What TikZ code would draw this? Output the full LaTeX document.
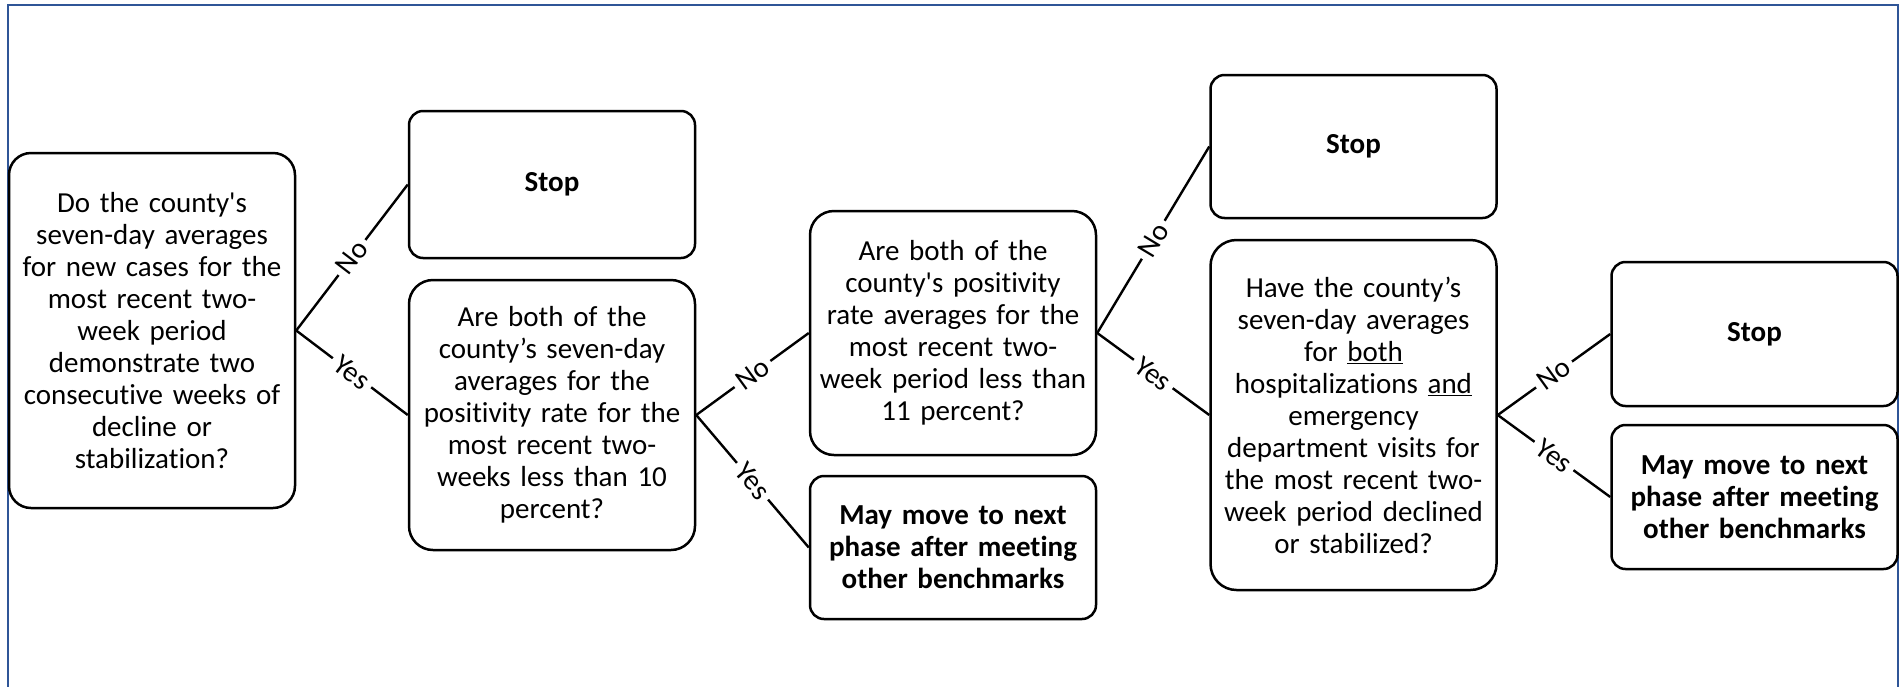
\documentclass[tikz,border=0pt]{standalone}
\usepackage{fontspec}
\setmainfont{Carlito}[Ligatures={TeX,NoCommon}]
\definecolor{frameblue}{HTML}{2F5597}
\begin{document}
\begin{tikzpicture}[x=1pt,y=-1pt,
  box/.style={draw=black, line width=2.5pt, rounded corners=#1, minimum width=286pt,
    text width=276pt, align=center, inner sep=0pt, font=\fontsize{29}{32}\selectfont},
  box/.default=24pt,
  lbl/.style={midway, sloped, fill=white, inner xsep=5pt, inner ysep=1pt,
    font=\fontsize{29}{32}\selectfont},
  conn/.style={line width=2.4pt},
  frame/.style={draw=frameblue, line width=1.8pt}]
\clip (0,0) rectangle (1902,686);
\draw[frame] (8,5) rectangle (1898,740);

\node[box=22pt, minimum height=355pt] (q1) at (152,330.5)
  {Do the county\textquotesingle s\\seven-day averages\\for new cases for the\\most recent two-\\week period\\demonstrate two\\consecutive weeks of\\decline or\\stabilization?};
\node[box=14pt, minimum height=147pt] (s1) at (552,184.5) {\textbf{Stop}};
\node[box=24pt, minimum height=270pt] (q2) at (552,415)
  {Are both of the\\county’s seven-day\\averages for the\\positivity rate for the\\most recent two-\\weeks less than 10\\percent?};
\node[box=24pt, minimum height=244pt] (q3) at (953,333)
  {Are both of the\\county\textquotesingle s positivity\\rate averages for the\\most recent two-\\week period less than\\11 percent?};
\node[box=14pt, minimum height=143pt] (m1) at (953,547.5)
  {\textbf{May move to next}\\\textbf{phase after meeting}\\\textbf{other benchmarks}};
\node[box=14pt, minimum height=143pt] (s2) at (1353.5,146.5) {\textbf{Stop}};
\node[box=26pt, minimum height=350pt] (q4) at (1353.5,415)
  {Have the county’s\\seven-day averages\\for \underline{both}\\hospitalizations \underline{and}\\emergency\\department visits for\\the most recent two-\\week period declined\\or stabilized?};
\node[box=14pt, minimum height=144pt] (s3) at (1754.5,334) {\textbf{Stop}};
\node[box=14pt, minimum height=144pt] (m3) at (1754.5,497)
  {\textbf{May move to next}\\\textbf{phase after meeting}\\\textbf{other benchmarks}};

\draw[conn] (q1.east) -- node[lbl]{No} (s1.west);
\draw[conn] (q1.east) -- node[lbl]{Yes} (q2.west);
\draw[conn] (q2.east) -- node[lbl]{No} (q3.west);
\draw[conn] (q2.east) -- node[lbl]{Yes} (m1.west);
\draw[conn] (q3.east) -- node[lbl]{No} (s2.west);
\draw[conn] (q3.east) -- node[lbl]{Yes} (q4.west);
\draw[conn] (q4.east) -- node[lbl]{No} (s3.west);
\draw[conn] (q4.east) -- node[lbl]{Yes} (m3.west);
\end{tikzpicture}
\end{document}
